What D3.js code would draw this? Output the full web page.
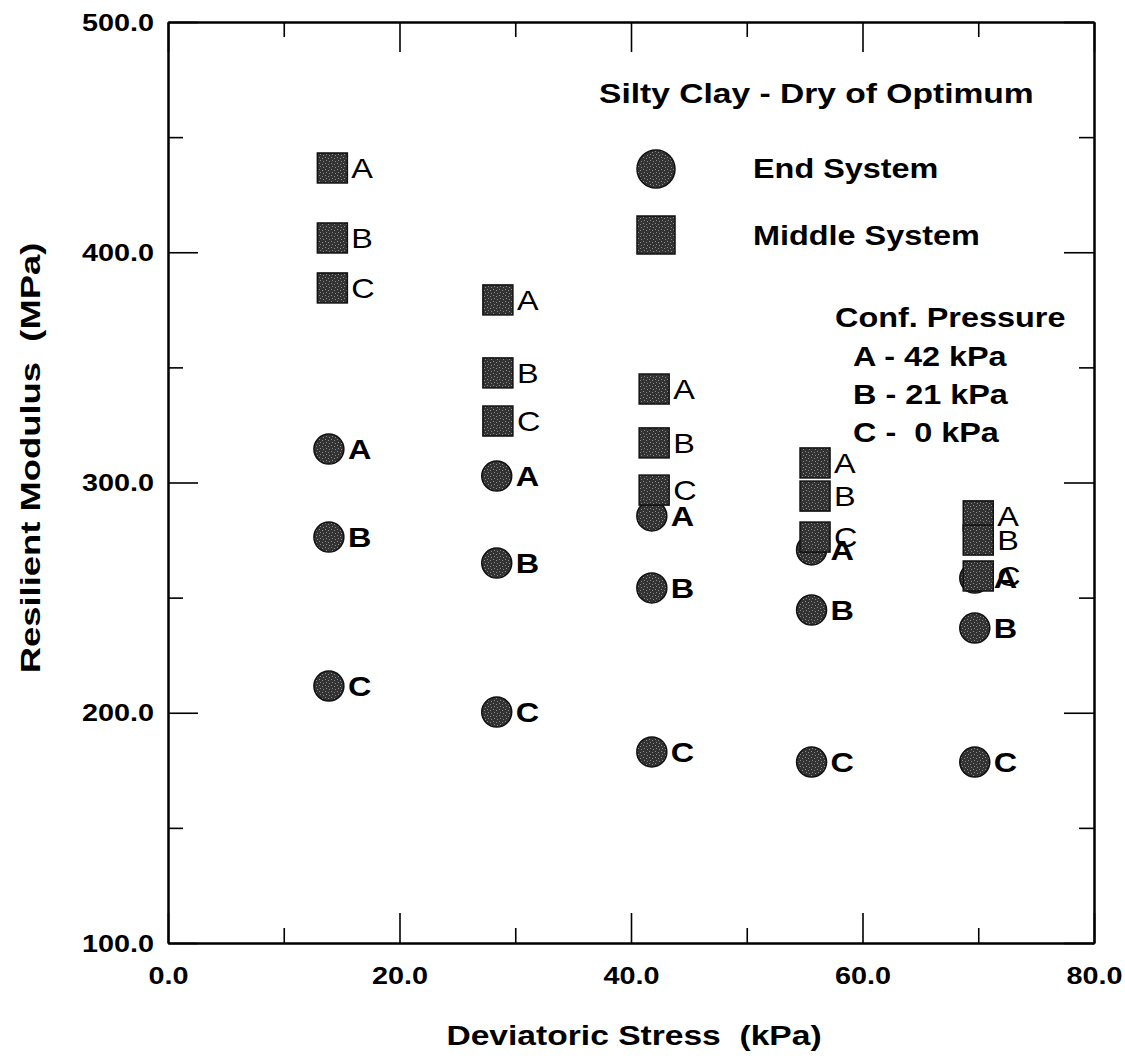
<!DOCTYPE html>
<html>
<head>
<meta charset="utf-8">
<script src="https://cdn.jsdelivr.net/npm/d3@7"></script>
<style>
  body { margin: 0; background: white; }
  text { font-family: "Liberation Sans", Arial, sans-serif; fill: #000; white-space: pre; }
</style>
</head>
<body>
<div id="rendering"></div>
<script>
const stressEnd = [13.9, 28.4, 41.8, 55.6, 69.7];
const stressMiddle = [14.2, 28.5, 42.0, 55.9, 70.0];

const endA = [314.5, 302.8, 285.5, 270.7, 258.5];
const endB = [276.3, 265.0, 254.2, 244.6, 236.8];
const endC = [211.6, 200.3, 183.0, 178.6, 178.6];

const middleA = [436.6, 379.3, 340.6, 308.5, 285.5];
const middleB = [406.2, 347.6, 317.2, 294.1, 275.0];
const middleC = [384.5, 326.7, 296.7, 276.3, 259.4];

const xTicks = [0, 20, 40, 60, 80];
const xMinor = [10, 30, 50, 70];
const yTicks = [100, 200, 300, 400, 500];
const yMinor = [150, 250, 350, 450];

const legendTitle = "Silty Clay - Dry of Optimum";
const legendSeries = ["End System", "Middle System"];
const pressureLines = ["Conf. Pressure", "A - 42 kPa", "B - 21 kPa", "C -  0 kPa"];

const width = 1125;
const height = 1063;
const stretch = 1.2;

const scaleX = d3.scaleLinear().domain([0, 80]).range([168, 1094]);
const scaleY = d3.scaleLinear().domain([100, 500]).range([943, 22]);

const svg = d3
  .select("#rendering")
  .append("svg")
  .attr("width", width)
  .attr("height", height);

// stippled grey fill like the scanned markers
const defs = svg.append("defs");
const pat = defs
  .append("pattern")
  .attr("id", "stipple")
  .attr("patternUnits", "userSpaceOnUse")
  .attr("width", 6)
  .attr("height", 6);
pat.append("rect").attr("width", 6).attr("height", 6).attr("fill", "#333");
[[1, 1], [4, 2], [2, 4], [5, 5]].forEach(([px, py]) => {
  pat.append("rect").attr("x", px).attr("y", py).attr("width", 1).attr("height", 1).attr("fill", "#8a8a8a");
});

// frame and ticks
const frame = svg.append("g");

const styleAxis = (g) => {
  g.select(".domain").attr("stroke", "#000").attr("stroke-width", 2);
  g.selectAll(".tick line").attr("stroke", "#000").attr("stroke-width", 1.6);
};

const styleLabels = (g, dx, dy) => {
  g.selectAll(".tick text")
    .attr("font-size", 24)
    .attr("font-weight", "bold")
    .attr("x", dx / stretch)
    .attr("dy", null)
    .attr("y", dy)
    .attr("transform", `scale(${stretch},1)`);
};

frame
  .append("g")
  .attr("transform", `translate(0,${scaleY(100)})`)
  .call(d3.axisBottom(scaleX).tickValues(xTicks).tickSizeInner(-30).tickSizeOuter(0).tickFormat(d3.format(".1f")))
  .call(styleAxis)
  .call((g) => styleLabels(g, 0, 41));

frame
  .append("g")
  .attr("transform", `translate(0,${scaleY(100)})`)
  .call(d3.axisBottom(scaleX).tickValues(xMinor).tickSizeInner(-15).tickSizeOuter(0).tickFormat(""))
  .call(styleAxis);

frame
  .append("g")
  .attr("transform", `translate(0,${scaleY(500)})`)
  .call(d3.axisTop(scaleX).tickValues(xTicks).tickSizeInner(-30).tickSizeOuter(0).tickFormat(""))
  .call(styleAxis);

frame
  .append("g")
  .attr("transform", `translate(0,${scaleY(500)})`)
  .call(d3.axisTop(scaleX).tickValues(xMinor).tickSizeInner(-15).tickSizeOuter(0).tickFormat(""))
  .call(styleAxis);

frame
  .append("g")
  .attr("transform", `translate(${scaleX(0)},0)`)
  .call(d3.axisLeft(scaleY).tickValues(yTicks).tickSizeInner(-30).tickSizeOuter(0).tickFormat(d3.format(".1f")))
  .call(styleAxis)
  .call((g) => {
    styleLabels(g, -14, 8);
    g.selectAll(".tick text").attr("text-anchor", "end");
  });

frame
  .append("g")
  .attr("transform", `translate(${scaleX(0)},0)`)
  .call(d3.axisLeft(scaleY).tickValues(yMinor).tickSizeInner(-15).tickSizeOuter(0).tickFormat(""))
  .call(styleAxis);

frame
  .append("g")
  .attr("transform", `translate(${scaleX(80)},0)`)
  .call(d3.axisRight(scaleY).tickValues(yTicks).tickSizeInner(-30).tickSizeOuter(0).tickFormat(""))
  .call(styleAxis);

frame
  .append("g")
  .attr("transform", `translate(${scaleX(80)},0)`)
  .call(d3.axisRight(scaleY).tickValues(yMinor).tickSizeInner(-15).tickSizeOuter(0).tickFormat(""))
  .call(styleAxis);

// wide text helper (the scan is stretched sideways)
const wideText = (parent, x, y, str, size, weight, anchor) =>
  parent
    .append("text")
    .attr("transform", `translate(${x},${y}) scale(${stretch},1)`)
    .attr("font-size", size)
    .attr("font-weight", weight)
    .attr("text-anchor", anchor || "start")
    .text(str);

// axis titles
wideText(svg, 634, 1045, "Deviatoric Stress  (kPa)", 28, "bold", "middle");
svg
  .append("text")
  .attr("transform", `translate(40,458) rotate(-90) scale(1.3,1)`)
  .attr("font-size", 28)
  .attr("font-weight", "bold")
  .attr("text-anchor", "middle")
  .text("Resilient Modulus  (MPa)");

// series
const letters = ["A", "B", "C"];
const endRows = [endA, endB, endC];
const middleRows = [middleA, middleB, middleC];

const endPoints = [];
endRows.forEach((row, i) => row.forEach((v, j) => endPoints.push({ x: stressEnd[j], y: v, label: letters[i] })));
const middlePoints = [];
middleRows.forEach((row, i) => row.forEach((v, j) => middlePoints.push({ x: stressMiddle[j], y: v, label: letters[i] })));

const marks = svg.append("g");

marks
  .selectAll("circle.end")
  .data(endPoints)
  .enter()
  .append("circle")
  .attr("class", "end")
  .attr("cx", (d) => scaleX(d.x))
  .attr("cy", (d) => scaleY(d.y))
  .attr("r", 15)
  .attr("fill", "url(#stipple)")
  .attr("stroke", "#111")
  .attr("stroke-width", 1.5);

marks
  .selectAll("rect.middle")
  .data(middlePoints)
  .enter()
  .append("rect")
  .attr("class", "middle")
  .attr("x", (d) => scaleX(d.x) - 15)
  .attr("y", (d) => scaleY(d.y) - 15)
  .attr("width", 30)
  .attr("height", 30)
  .attr("fill", "url(#stipple)")
  .attr("stroke", "#111")
  .attr("stroke-width", 1.5);

endPoints.forEach((d) => wideText(marks, scaleX(d.x) + 19, scaleY(d.y) + 10, d.label, 27, "bold"));
middlePoints.forEach((d) => wideText(marks, scaleX(d.x) + 19, scaleY(d.y) + 10, d.label, 27, "normal"));

// legend
const legend = svg.append("g");
wideText(legend, 599, 103, legendTitle, 28, "bold");

legend
  .append("circle")
  .attr("cx", 656)
  .attr("cy", 169)
  .attr("r", 19)
  .attr("fill", "url(#stipple)")
  .attr("stroke", "#111")
  .attr("stroke-width", 1.5);
legend
  .append("rect")
  .attr("x", 637)
  .attr("y", 216)
  .attr("width", 38)
  .attr("height", 38)
  .attr("fill", "url(#stipple)")
  .attr("stroke", "#111")
  .attr("stroke-width", 1.5);

wideText(legend, 753, 178, legendSeries[0], 27, "bold");
wideText(legend, 753, 245, legendSeries[1], 27, "bold");

wideText(legend, 835, 327, pressureLines[0], 27, "bold");
wideText(legend, 853, 366, pressureLines[1], 27, "bold");
wideText(legend, 853, 404, pressureLines[2], 27, "bold");
wideText(legend, 853, 442, pressureLines[3], 27, "bold");
</script>
</body>
</html>
